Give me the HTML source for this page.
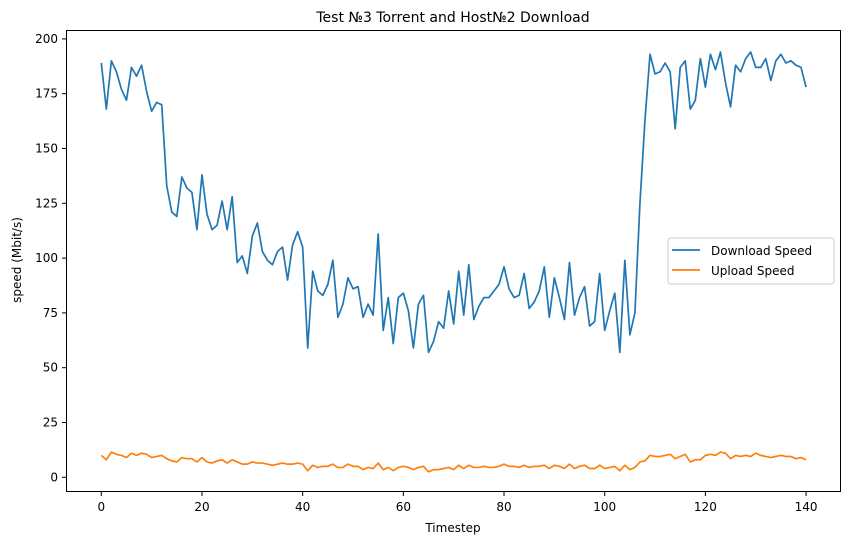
<!DOCTYPE html>
<html><head><meta charset="utf-8"><style>
body{margin:0;background:#fff;font-family:"Liberation Sans","DejaVu Sans",sans-serif}
</style></head><body>
<svg id="chart" width="850" height="545" xmlns="http://www.w3.org/2000/svg" font-family="DejaVu Sans, Liberation Sans, sans-serif">
<rect width="850" height="545" fill="#fff"/>
<text x="453" y="22" text-anchor="middle" font-size="14">Test №3 Torrent and Host№2 Download</text>
<text x="453" y="532" text-anchor="middle" font-size="12">Timestep</text>
<text transform="translate(21,260) rotate(-90)" text-anchor="middle" font-size="12">speed (Mbit/s)</text>
<g id="ticks"></g>
<g id="series"></g>
<rect x="66.5" y="30.5" width="774" height="461" fill="none" stroke="#000" stroke-width="1"/>
<g>
<rect x="668" y="238" width="166" height="46" rx="3" fill="#fff" fill-opacity="0.8" stroke="#ccc"/>
<line x1="672" y1="250" x2="700" y2="250" stroke="#1f77b4" stroke-width="1.8"/>
<text x="711" y="255" font-size="12">Download Speed</text>
<line x1="672" y1="270" x2="700" y2="270" stroke="#ff7f0e" stroke-width="1.8"/>
<text x="711" y="275" font-size="12">Upload Speed</text>
</g>
</svg>
<script>
const xTicks=[0,20,40,60,80,100,120,140];
const yTicks=[0,25,50,75,100,125,150,175,200];
const download=[189,168,190,185,177,172,187,183,188,176,167,171,170,133,121,119,137,132,130,113,138,120,113,115,126,113,128,98,101,93,110,116,103,99,97,103,105,90,106,112,105,59,94,85,83,88,99,73,79,91,86,87,73,79,74,111,67,82,61,82,84,76,59,79,83,57,62,71,68,85,70,94,74,97,72,78,82,82,85,88,96,86,82,83,93,77,80,85,96,73,91,82,72,98,74,82,87,69,71,93,67,76,84,57,99,65,75,125,163,193,184,185,189,185,159,187,190,168,172,191,178,193,186,194,180,169,188,185,191,194,187,187,191,181,190,193,189,190,188,187,178];
const upload=[10,8,11.5,10.5,10,9,11,10,11,10.5,9,9.5,10,8.5,7.5,7,9,8.5,8.5,7,9,7,6.5,7.5,8,6.5,8,7,6,6,7,6.5,6.5,6,5.5,6,6.5,6,6,6.5,6,3,5.5,4.5,5,5,6,4.5,4.5,6,5,5,3.5,4.5,4,6.5,3.5,4.5,3,4.5,5,4.5,3.5,4.5,5,2.5,3.5,3.5,4,4.5,3.5,5.5,4,5.5,4.5,4.5,5,4.5,4.5,5,6,5,5,4.5,5.5,4.5,5,5,5.5,4,5.5,5,4,6,4,5,5.5,4,4,5.5,4,4.5,5,3,5.5,3.5,4.5,7,7.5,10,9.5,9.5,10,10.5,8.5,9.5,10.5,7,8,8,10,10.5,10,11.5,11,8.5,10,9.5,10,9.5,11,10,9.5,9,9.5,10,9.5,9.5,8.5,9,8];
const NS='http://www.w3.org/2000/svg';
function xs(v){return 101.3+v*5.034;}
function ys(v){return 477.3-v*2.192;}
const tg=document.getElementById('ticks');
xTicks.forEach(t=>{
 const l=document.createElementNS(NS,'line');
 
 
 l.setAttribute('x1',xs(t));l.setAttribute('x2',xs(t));l.setAttribute('y1',491.5);l.setAttribute('y2',496);l.setAttribute('stroke','#000');
 tg.appendChild(l);
 const tx=document.createElementNS(NS,'text');
 
 
 tx.setAttribute('x',xs(t));tx.setAttribute('y',511);tx.setAttribute('text-anchor','middle');tx.setAttribute('font-size','12');
 tx.textContent=t;tg.appendChild(tx);
});
yTicks.forEach(t=>{
 const l=document.createElementNS(NS,'line');
 
 
 l.setAttribute('x1',62);l.setAttribute('x2',66.5);l.setAttribute('y1',ys(t));l.setAttribute('y2',ys(t));l.setAttribute('stroke','#000');
 tg.appendChild(l);
 const tx=document.createElementNS(NS,'text');
 
 
 tx.setAttribute('x',58);tx.setAttribute('y',ys(t)+4);tx.setAttribute('text-anchor','end');tx.setAttribute('font-size','12');
 tx.textContent=t;tg.appendChild(tx);
});
const sg=document.getElementById('series');
function line(arr,color,name){
 const p=document.createElementNS(NS,'polyline');
 
 
 p.setAttribute('points',arr.map((v,i)=>xs(i).toFixed(2)+','+ys(v).toFixed(2)).join(' '));
 p.setAttribute('fill','none');p.setAttribute('stroke',color);p.setAttribute('stroke-width','1.7');p.setAttribute('stroke-linejoin','round');
 sg.appendChild(p);
}
line(download,'#1f77b4','download-speed-line');
line(upload,'#ff7f0e','upload-speed-line');
</script>
</body></html>
